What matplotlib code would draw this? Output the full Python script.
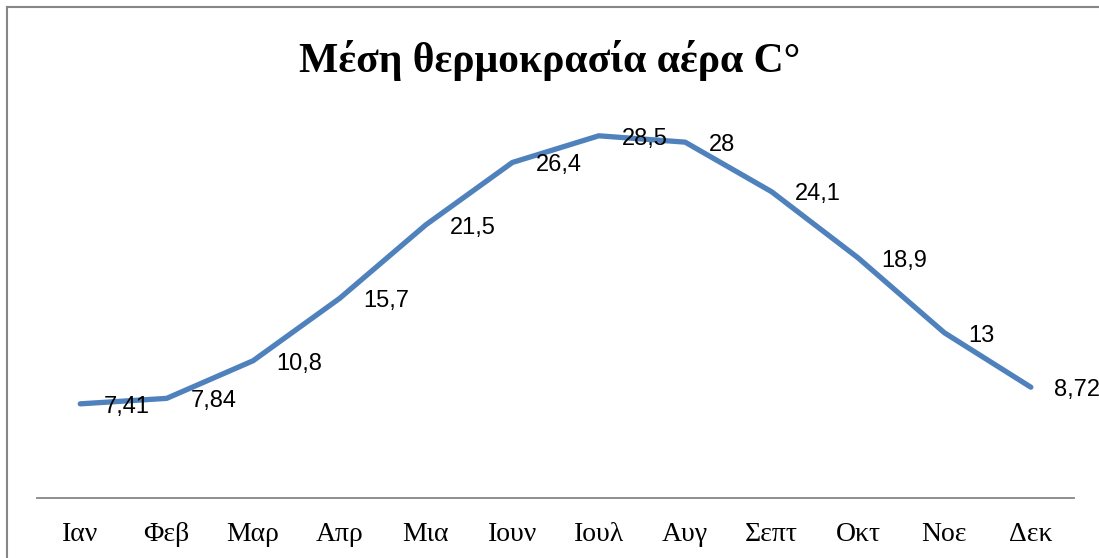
import matplotlib
matplotlib.use("Agg")
import matplotlib.pyplot as plt
from matplotlib.lines import Line2D

# ── Data ──────────────────────────────────────────────────────────────────────
MONTHS = ["Ιαν", "Φεβ", "Μαρ", "Απρ", "Μια", "Ιουν",
          "Ιουλ", "Αυγ", "Σεπτ", "Οκτ", "Νοε", "Δεκ"]
TEMPS = [7.41, 7.84, 10.8, 15.7, 21.5, 26.4, 28.5, 28, 24.1, 18.9, 13, 8.72]
TITLE = "Μέση θερμοκρασία αέρα C°"

LINE_COLOR = "#4F81BD"
GRAY = "#868686"


def fmt(v):
    return f"{v:g}".replace(".", ",")


def main():
    fig = plt.figure(figsize=(10.99, 5.58), dpi=100)
    ax = fig.add_axes([0.0337, 0.1075, 0.9436, 0.6833])

    x = list(range(len(MONTHS)))
    ax.plot(x, TEMPS, color=LINE_COLOR, lw=3.8,
            solid_capstyle="round", solid_joinstyle="round")

    for xi, v in zip(x, TEMPS):
        ax.annotate(fmt(v), (xi, v), xytext=(17, -2), textcoords="offset points",
                    ha="left", va="center", fontsize=17,
                    family="Liberation Sans", color="black")

    ax.set_xlim(-0.5, len(MONTHS) - 0.5)
    ax.set_ylim(0, 30)
    ax.set_xticks(x)
    ax.set_xticklabels(MONTHS, family="Liberation Serif", fontsize=20)
    ax.tick_params(axis="x", length=0, pad=17)
    ax.set_yticks([])
    for s in ["top", "right", "left"]:
        ax.spines[s].set_visible(False)
    ax.spines["bottom"].set_color(GRAY)
    ax.spines["bottom"].set_linewidth(1.3)

    fig.text(0.5, 0.892, TITLE, ha="center", va="center",
             family="Liberation Serif", fontweight="bold", fontsize=30)

    # chart border (only left and top visible in the crop)
    fig.add_artist(Line2D([7 / 1099, 7 / 1099], [0, 1 - 7 / 558],
                          transform=fig.transFigure, color=GRAY, lw=1.5))
    fig.add_artist(Line2D([7 / 1099, 1], [1 - 7 / 558, 1 - 7 / 558],
                          transform=fig.transFigure, color=GRAY, lw=1.5))

    fig.savefig("out.png", dpi=100)


if __name__ == "__main__":
    main()
